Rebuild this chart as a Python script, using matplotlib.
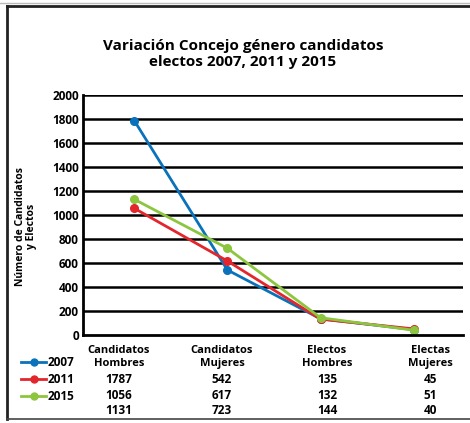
import matplotlib
matplotlib.use("Agg")
import matplotlib.pyplot as plt
from matplotlib.lines import Line2D

plt.rcParams["font.family"] = ["Open Sans", "DejaVu Sans"]

categories = ["Candidatos\nHombres", "Candidatos\nMujeres", "Electos\nHombres", "Electas\nMujeres"]
years = ["2007", "2011", "2015"]
values_2007 = [1787, 542, 135, 45]
values_2011 = [1056, 617, 132, 51]
values_2015 = [1131, 723, 144, 40]
colors = ["#0A72BA", "#E2262B", "#8CC63F"]

y_ticks = list(range(0, 2001, 200))

W, H = 470, 423
fig = plt.figure(figsize=(W / 100, H / 100), dpi=100)

# axes box in pixel coordinates
left, right, top, bottom = 83, 463, 95, 335
ax = fig.add_axes([left / W, 1 - bottom / H, (right - left) / W, (bottom - top) / H])

series = [values_2007, values_2011, values_2015]
x = list(range(len(categories)))
for vals, col in zip(series, colors):
    ax.plot(x, vals, color=col, lw=2, marker="o", ms=5.5, solid_capstyle="round")

ax.set_xlim(-0.55, 3.53)
ax.set_ylim(0, 2000)
ax.set_yticks(y_ticks)
ax.set_yticklabels([str(t) for t in y_ticks], fontsize=8.5, fontweight="bold")
ax.tick_params(axis="y", length=0, pad=3)
ax.set_xticks([])
for t in y_ticks[1:]:
    ax.axhline(t, color="black", lw=1.8, zorder=0)
for side in ["top", "right"]:
    ax.spines[side].set_visible(False)
ax.spines["left"].set_linewidth(2)
ax.spines["bottom"].set_linewidth(2)

fig.text(26 / W, 1 - 226 / H, "Número de Candidatos\ny Electos",
         rotation=90, ha="center", va="center", fontsize=7.5, fontweight="bold",
         linespacing=1.1)

fig.text(243 / W, 1 - 54 / H, "Variación Concejo género candidatos\nelectos 2007, 2011 y 2015",
         ha="center", va="center", fontsize=11, fontweight="bold", linespacing=1.2)

# data table under the plot
col_x = [119, 222, 327, 430]
for cx, cat, v07, v11, v15 in zip(col_x, categories, values_2007, values_2011, values_2015):
    fig.text(cx / W, 1 - 357 / H, cat, ha="center", va="center", fontsize=8,
             fontweight="bold", linespacing=1.35)
    for ry, v in zip([379, 395, 410], [v07, v11, v15]):
        fig.text(cx / W, 1 - ry / H, str(v), ha="center", va="center",
                 fontsize=8.5, fontweight="bold")

legend_y = [362, 379, 396]
for yr, col, ly in zip(years, colors, legend_y):
    yy = 1 - ly / H
    fig.add_artist(Line2D([21 / W, 46 / W], [yy, yy], color=col, lw=2))
    fig.add_artist(Line2D([33.5 / W], [yy], color=col, marker="o", ms=5))
    fig.text(48 / W, yy, yr, ha="left", va="center", fontsize=8.5, fontweight="bold")

# outer frame
fig.add_artist(Line2D([0, 1], [1 - 3 / H, 1 - 3 / H], color="#bbbbbb", lw=1))
fig.add_artist(Line2D([7 / W, 1], [1 - 6 / H, 1 - 6 / H], color="#222222", lw=2))
fig.add_artist(Line2D([7 / W, 7 / W], [1 - 6 / H, 1 - 419 / H], color="#222222", lw=2))
fig.add_artist(Line2D([7 / W, 1], [1 - 419 / H, 1 - 419 / H], color="#444444", lw=1.2))

fig.savefig("out.png", dpi=100)
